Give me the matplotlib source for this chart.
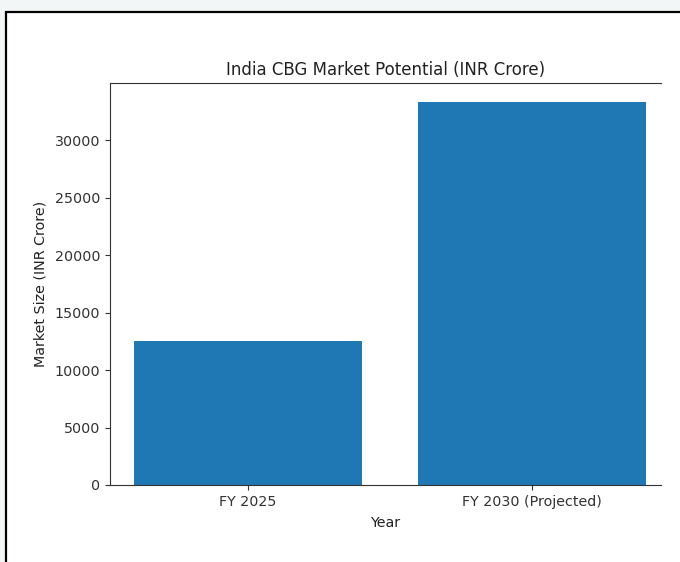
import matplotlib
matplotlib.use("Agg")
import matplotlib.pyplot as plt
from matplotlib.patches import Rectangle

# =============================
# DATA
# =============================
years = ["FY 2025", "FY 2030 (Projected)"]
market_size = [12500, 33300]

TITLE = "India CBG Market Potential (INR Crore)"
X_LABEL = "Year"
Y_LABEL = "Market Size (INR Crore)"

# =============================
# FIGURE (screenshot-like frame)
# =============================
W, H = 680, 562
fig = plt.figure(figsize=(W / 100, H / 100), dpi=100)
fig.patch.set_facecolor("#f3f6f6")

frame = Rectangle(
    (6 / W, -0.01),
    1.02 - 6 / W,
    1.01 - 12 / H,
    transform=fig.transFigure,
    facecolor="white",
    edgecolor="black",
    linewidth=1.6,
    zorder=0,
)
fig.add_artist(frame)

ax = fig.add_axes([110 / W, 1 - 485 / H, 551 / W, 402 / H])
ax.set_facecolor("white")

ax.bar(years, market_size, color="#1f77b4", width=0.8)

ax.set_xlim(-0.486, 1.454)
ax.set_ylim(0, 34960)

ax.spines["right"].set_visible(False)
for side in ("left", "bottom", "top"):
    ax.spines[side].set_color("#333333")

ax.tick_params(axis="both", labelsize=10.3, colors="#333333")
ax.set_title(TITLE, fontsize=12, color="#222222", pad=6)
ax.set_xlabel(X_LABEL, fontsize=10.3, color="#222222", labelpad=5)
ax.set_ylabel(Y_LABEL, fontsize=10.3, color="#222222", labelpad=5)

fig.savefig("out.png", dpi=100, facecolor=fig.get_facecolor())
